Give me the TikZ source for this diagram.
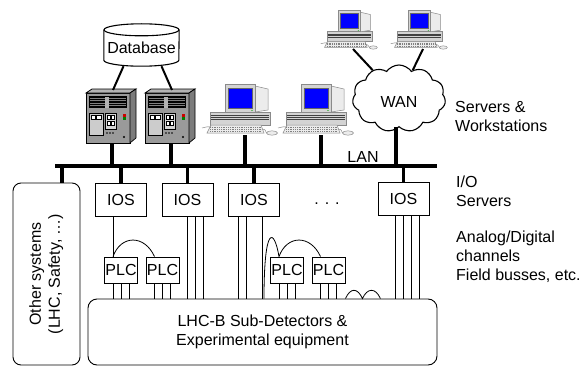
\documentclass[tikz,border=0pt]{standalone}
\usepackage{fontspec}
\setmainfont{Liberation Sans}
\usetikzlibrary{shapes.symbols}

\definecolor{casefront}{HTML}{9A9A9A}
\definecolor{caseside}{HTML}{7C7C7C}
\definecolor{casetop}{HTML}{B4B4B4}
\definecolor{bay}{HTML}{CCCCCC}
\definecolor{pcbody}{HTML}{D4D4D4}
\definecolor{pcside}{HTML}{ECECEC}
\definecolor{pcline}{HTML}{8A8A8A}
\definecolor{screen}{HTML}{0000FF}

\tikzset{
  lan/.style={line width=3.2pt},
  link/.style={line width=2pt},
  wire/.style={line width=0.8pt},
  boxline/.style={draw, line width=0.9pt, inner sep=0pt},
  iosbox/.style={boxline, minimum width=51, minimum height=33},
  plcbox/.style={boxline, minimum width=33, minimum height=26},
  server/.pic={
    % cabinet: front, top, side
    \draw[line width=0.7pt, fill=casefront] (0,0) rectangle (44,50);
    \draw[line width=0.7pt, fill=casetop] (0,0) -- (6,-4) -- (50,-4) -- (44,0) -- cycle;
    \draw[line width=0.7pt, fill=caseside] (44,0) -- (50,-4) -- (50,45) -- (44,50) -- cycle;
    % vent grille
    \fill[black] (3,3) rectangle (41,15);
    \foreach \y in {5,7.5,10,12.5} \draw[gray, line width=0.5pt] (4,\y) -- (40,\y);
    \fill[gray!60] (19,3.5) rectangle (23,14.5);
    % bays
    \draw[line width=0.6pt, fill=bay] (3,20) rectangle (17,42);
    \draw[line width=0.5pt, fill=white] (5,22) rectangle (9.5,26) (10.5,22) rectangle (15,26);
    \draw[line width=0.6pt, fill=bay!80] (19,20) rectangle (30,36);
    \foreach \x in {21,25} \foreach \y in {22,28}
      \draw[line width=0.4pt, fill=white] (\x,\y) rectangle ++(3,4);
    \foreach \x in {21,24,27} \fill (\x,40) circle (0.9pt);
    \fill[red!80!black] (37,21) rectangle (39.5,23.5);
    \fill[green!50!black] (37,24) rectangle (39.5,26.5);
    \fill (38,44) circle (1.2pt);
    \coordinate (-top) at (27,-3);
    \coordinate (-bot) at (26,50);
  },
  pc/.pic={
    % system unit
    \draw[pcline, line width=0.5pt, fill=pcbody] (-35,-23) rectangle (25,-10);
    \foreach \y in {-20,-18,-16} \draw[black!75, line width=0.6pt] (-34,\y) -- (24,\y);
    % monitor
    \draw[pcline, line width=0.5pt, fill=pcside] (10,-49) -- (23,-46) -- (23,-25) -- (10,-23) -- cycle;
    \draw[pcline, line width=0.5pt, fill=pcbody] (-20,-51) rectangle (10,-23);
    \draw[black!60, line width=0.6pt, fill=screen] (-17,-47) rectangle (7,-27);
    \fill[green!60!black] (7,-24.5) circle (0.6pt);
    % keyboard and mouse
    \draw[pcline, line width=0.5pt, fill=pcside] (-34,-10) -- (16,-10) -- (19,-2) -- (-38,-2) -- cycle;
    \foreach \y in {-8,-6,-4} \draw[gray, line width=0.5pt, dash pattern=on 1pt off 0.8pt] (-35,\y) -- (17,\y);
    \draw[pcline, line width=0.5pt] (17,-6) .. controls (22,-6) and (20,-2) .. (22,-2);
    \draw[pcline, line width=0.5pt, fill=pcside] (27,-2) ellipse (5.5pt and 2.2pt);
    \draw[pcline, line width=0.5pt] (-34,-8) .. controls (-39,-9) and (-40,-7) .. (-43,-7);
    \coordinate (-base) at (0,0);
  }
}

\begin{document}
\begin{tikzpicture}[x=1pt, y=-1pt, font=\fontsize{16}{19}\selectfont]
  \useasboundingbox (0,0) rectangle (586,369);

  % LAN
  \coordinate (lanL) at (55,166);
  \coordinate (lanR) at (437,166);
  \draw[lan] (lanL) -- (lanR);
  \node (lanlbl) at (363,157) {LAN};

  % servers with the database
  \pic (srvA) at (86,93) {server};
  \pic (srvB) at (145,93) {server};
  \node[minimum width=75, minimum height=42, inner sep=0pt, text height=18pt, text depth=0pt] (db) at (141.5,45) {Database};
  \draw[line width=1.1pt] ([yshift=-6pt]db.north west) -- ([yshift=6pt]db.south west)
    arc[start angle=180, end angle=360, x radius=37.5pt, y radius=6pt]
    -- ([yshift=-6pt]db.north east);
  \draw[line width=1.1pt] ([yshift=-6pt]db.north) ellipse [x radius=37.5pt, y radius=6pt];
  \draw[link] ([xshift=-18pt]db.south) -- (srvA-top);
  \draw[link] ([xshift=20pt]db.south) -- (srvB-top);
  \draw[lan] (srvA-bot) -- (srvA-bot |- lanL);
  \draw[lan] (srvB-bot) -- (srvB-bot |- lanL);

  % workstations and WAN
  \pic (pcA) at (245,135) {pc};
  \pic (pcB) at (321,135) {pc};
  \pic[scale=0.75] (pcC) at (353,49) {pc};
  \pic[scale=0.75] (pcD) at (423,49) {pc};
  \draw[lan] (pcA-base) -- (pcA-base |- lanL);
  \draw[lan] (pcB-base) -- (pcB-base |- lanL);
  \node[cloud, draw, line width=1.1pt, cloud puffs=11, cloud puff arc=110, aspect=1.4,
    minimum width=93, minimum height=67, inner sep=0pt, text height=18pt, text depth=0pt] (wan) at (399,98.5) {WAN};
  \draw[link] (pcC-base) -- (wan);
  \draw[link] (pcD-base) -- (wan);
  \draw[lan] ([xshift=-3pt]wan.south) -- ([xshift=-3pt]wan.south |- lanL);

  % other systems
  \node[draw, line width=0.9pt, rounded corners=8pt, minimum width=67, minimum height=182, inner sep=0pt] (other) at (46.5,274)
    {\rotatebox{90}{\begin{tabular}{@{}c@{}}Other systems\\(LHC, Safety, \ldots)\end{tabular}}};
  \draw[lan] ([xshift=15.5pt]other.north) -- ([xshift=15.5pt]other.north |- lanL);

  % I/O servers
  \node[iosbox] (iosA) at (121,199.5) {IOS};
  \node[iosbox] (iosB) at (187.5,199.5) {IOS};
  \node[iosbox] (iosC) at (254,199.5) {IOS};
  \node[iosbox] (iosD) at (403.5,198.5) {IOS};
  \node[anchor=base] (more) at (327,204) {.\hspace{6pt}.\hspace{6pt}.};
  \foreach \n in {iosA,iosB,iosC,iosD} \draw[lan] (\n.north) -- (\n.north |- lanL);

  % detectors and PLCs
  \node[boxline, rounded corners=9pt, minimum width=349, minimum height=66, align=center] (lhcb) at (262.5,332)
    {LHC-B Sub-Detectors \&\\Experimental equipment};
  \node[plcbox] (plcA) at (121,270) {PLC};
  \node[plcbox] (plcB) at (162.5,270) {PLC};
  \node[plcbox] (plcC) at (287,270) {PLC};
  \node[plcbox] (plcD) at (328.5,270) {PLC};

  \draw[wire] ([xshift=-8]iosA.south) -- ([xshift=-8]plcA.north);
  \foreach \dx in {0,8,16} \draw[wire] ([xshift=\dx]iosB.south) -- ([xshift=\dx]iosB.south |- lhcb.north);
  \foreach \dx in {-16,-8,8} \draw[wire] ([xshift=\dx]iosC.south) -- ([xshift=\dx]iosC.south |- lhcb.north);
  \foreach \dx in {-8,0,8,16} \draw[wire] ([xshift=\dx]iosD.south) -- ([xshift=\dx]iosD.south |- lhcb.north);
  \foreach \n in {plcA,plcB,plcC,plcD}
    \foreach \dx in {-8,0,8} \draw[wire] ([xshift=\dx]\n.south) -- ([xshift=\dx]\n.south |- lhcb.north);

  \draw[wire] ([xshift=-8]plcA.north) .. controls +(8,-22) and +(-10,-22) .. ([xshift=-8]plcB.north);
  \draw[wire] ([xshift=-8]plcC.north) .. controls +(8,-22) and +(-10,-22) .. ([xshift=-8]plcD.north);
  \draw[wire] ([xshift=-23]plcC.north |- lhcb.north) .. controls +(0,-74) and +(-5,-29) .. ([xshift=-8]plcC.north);
  \draw[wire] ([xshift=-92]lhcb.north east) .. controls +(5,-11) and +(-5,-11) .. ([xshift=-75]lhcb.north east)
    .. controls +(5,-11) and +(-5,-11) .. ([xshift=-57]lhcb.north east);

  % labels (base is the last line)
  \node[anchor=base west, align=left, inner sep=0pt] (srvlbl) at (455,131) {Servers \&\\Workstations};
  \node[anchor=base west, align=left, inner sep=0pt] (ioslbl) at (456,206) {I/O\\Servers};
  \node[anchor=base west, align=left, inner sep=0pt] (chlbl) at (456,280) {Analog/Digital\\channels\\Field busses, etc.};
\end{tikzpicture}
\end{document}
